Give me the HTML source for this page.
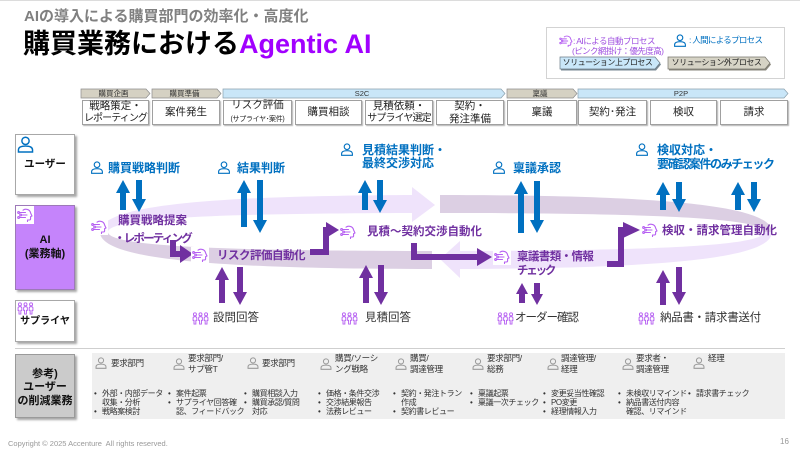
<!DOCTYPE html>
<html><head><meta charset="utf-8">
<style>
*{margin:0;padding:0;box-sizing:border-box}
body{width:800px;height:450px;position:relative;overflow:hidden;background:#fff;font-family:"Liberation Sans","Noto Sans CJK JP",sans-serif}
.t{position:absolute;white-space:nowrap;line-height:1}
.bx{position:absolute;top:100px;height:25px;border:1px solid #a0a0a0;background:#fff;box-shadow:1px 1px 1px rgba(0,0,0,.3);display:flex;align-items:center;justify-content:center;text-align:center;font-size:10.5px;line-height:12.5px;color:#222}
.ch{position:absolute;top:89px;height:9px;font-size:7.5px;line-height:9px;text-align:center;color:#333}
.u{color:#0070c0;font-weight:bold;font-size:12px}
.a{color:#7030a0;font-weight:bold;font-size:11.5px}
.s{color:#333;font-size:11.5px}
.lb{position:absolute;left:15px;width:60px;border:1px solid #a8a8a8;box-shadow:2px 2px 2px rgba(0,0,0,.35)}
.lt{position:absolute;left:15px;width:60px;text-align:center;font-weight:bold;color:#111;line-height:1;white-space:nowrap}
.role{position:absolute;font-size:8.5px;line-height:11px;color:#333;white-space:nowrap;letter-spacing:-0.3px}
.col{position:absolute;top:388.5px;font-size:8px;line-height:9.2px;color:#333;white-space:nowrap;letter-spacing:-0.4px}
.col i{display:inline-block;width:8px;font-style:normal;letter-spacing:0}
.col b{display:inline-block;width:8px}
</style></head><body>
<svg width="800" height="450" style="position:absolute;left:0;top:0" xmlns="http://www.w3.org/2000/svg">
<defs>
<symbol id="ai" viewBox="0 0 16 14">
<g fill="none" stroke="#b660f2" stroke-width="1.1" stroke-linecap="round" stroke-linejoin="round">
<path d="M6,2.2 C8,0.6 12.8,0.8 13.6,5 L15,8 L13.6,8.6 L13.6,10.8 Q13.6,12 12.3,12 L10.5,12 L10.5,13.5"/>
<path d="M2.8,4.5 H8.5 M4.8,7 H10 M2.8,9.5 H8.5"/>
<circle cx="1.6" cy="4.5" r="0.9"/><circle cx="3.6" cy="7" r="0.9"/><circle cx="1.6" cy="9.5" r="0.9"/>
</g>
</symbol>
<symbol id="person" viewBox="0 0 14 14">
<circle cx="7" cy="4" r="3" fill="none" stroke="currentColor" stroke-width="1.2"/>
<path d="M1.2,13.2 V11.5 Q1.2,8.3 7,8.3 Q12.8,8.3 12.8,11.5 V13.2 Z" fill="none" stroke="currentColor" stroke-width="1.2"/>
</symbol>
<symbol id="sup" viewBox="0 0 18 14">
<g fill="none" stroke="#b660f2" stroke-width="1">
<circle cx="3" cy="2.5" r="1.6"/><circle cx="9" cy="2.5" r="1.6"/><circle cx="15" cy="2.5" r="1.6"/>
<path d="M1,9 V6.5 Q1,5 3,5 Q5,5 5,6.5 V9 H4 V13 H2 V9 Z"/>
<path d="M7,9 V6.5 Q7,5 9,5 Q11,5 11,6.5 V9 H10 V13 H8 V9 Z"/>
<path d="M13,9 V6.5 Q13,5 15,5 Q17,5 17,6.5 V9 H16 V13 H14 V9 Z"/>
</g>
</symbol>
<clipPath id="cTL"><rect x="0" y="0" width="412" height="450"/></clipPath>
<clipPath id="cBL"><rect x="0" y="0" width="432" height="450"/></clipPath>
<clipPath id="cTR"><rect x="440" y="0" width="360" height="450"/></clipPath>
<clipPath id="cBR"><rect x="460" y="0" width="340" height="450"/></clipPath>
</defs>

<line x1="0" y1="0.5" x2="800" y2="0.5" stroke="#dcdcdc" stroke-width="1"/>

<!-- phase chevrons -->
<polygon points="81,89 146,89 150,93.5 146,98 81,98" fill="#d5d1c3" stroke="#8c8c8c" stroke-width="0.7"/>
<polygon points="152,89 217,89 221,93.5 217,98 152,98" fill="#d5d1c3" stroke="#8c8c8c" stroke-width="0.7"/>
<polygon points="223,89 501,89 505,93.5 501,98 223,98" fill="#c9e6f8" stroke="#8aa0ad" stroke-width="0.7"/>
<polygon points="507,89 573,89 577,93.5 573,98 507,98" fill="#d5d1c3" stroke="#8c8c8c" stroke-width="0.7"/>
<polygon points="578,89 784,89 788,93.5 784,98 578,98" fill="#c9e6f8" stroke="#8aa0ad" stroke-width="0.7"/>

<!-- ring -->
<path clip-path="url(#cBL)" d="M100,232 C100,257.9 200.8,269 436,269 L436,251 C206.4,251 108,245.3 108,232 Z" fill="#dccfe3"/>
<path clip-path="url(#cTR)" d="M436,195 C671.2,195 772,206.1 772,232 L764,232 C764,218.7 665.6,213 436,213 Z" fill="#dccfe3"/>
<path clip-path="url(#cTL)" d="M100,232 C100,206.1 200.8,195 436,195 L436,213 C206.4,213 108,218.7 108,232 Z" fill="#efe3fb"/>
<polygon points="412,187 435,205 412,222" fill="#efe3fb"/>
<path clip-path="url(#cBR)" d="M772,232 C772,257.9 671.2,269 436,269 L436,251 C665.6,251 764,245.3 764,232 Z" fill="#efe3fb"/>
<polygon points="460,241 440,259 460,278" fill="#efe3fb"/>

<!-- blue arrows -->
<g fill="#0070c0">
<polygon points="123,180 130,193 126,193 126,210 120,210 120,193 116,193"/>
<polygon points="139,212 146,199 142,199 142,180 136,180 136,199 132,199"/>
<polygon points="244,180 251,193 247,193 247,227 241,227 241,193 237,193"/>
<polygon points="260,233 267,220 263,220 263,180 257,180 257,220 253,220"/>
<polygon points="365,180 372,193 368,193 368,210 362,210 362,193 358,193"/>
<polygon points="380,213 387,200 383,200 383,180 377,180 377,200 373,200"/>
<polygon points="521,181 528,194 524,194 524,233 518,233 518,194 514,194"/>
<polygon points="537,233 544,220 540,220 540,181 534,181 534,220 530,220"/>
<polygon points="663,182 670,195 666,195 666,210 660,210 660,195 656,195"/>
<polygon points="679,212 686,199 682,199 682,182 676,182 676,199 672,199"/>
<polygon points="738,182 745,195 741,195 741,210 735,210 735,195 731,195"/>
<polygon points="754,212 761,199 757,199 757,182 751,182 751,199 747,199"/>
</g>
<!-- purple arrows -->
<g fill="#7030a0">
<polygon points="222,267 229,280 225,280 225,303 219,303 219,280 215,280"/>
<polygon points="240,305 247,292 243,292 243,267 237,267 237,292 233,292"/>
<polygon points="366,265 373,278 369,278 369,303 363,303 363,278 359,278"/>
<polygon points="381,305 388,292 384,292 384,265 378,265 378,292 374,292"/>
<polygon points="522,283 528,294 525,294 525,303 519,303 519,294 516,294"/>
<polygon points="537,305 543,294 540,294 540,283 534,283 534,294 531,294"/>
<polygon points="663,270 670,283 666,283 666,305 660,305 660,283 656,283"/>
<polygon points="679,305 686,292 682,292 682,267 676,267 676,292 672,292"/>
<polygon points="180,245 193,254 180,263"/>
<polygon points="326,222 339,230 326,238"/>
<polygon points="477,248 492,257 477,266"/>
<polygon points="623,222 640,230 623,238"/>
</g>
<g fill="none" stroke="#7030a0" stroke-width="6" stroke-linejoin="miter">
<path d="M173,240 V254 H181"/>
<path d="M310,252 H326 V230 H327"/>
<path d="M414,243 V257 H478"/>
<path d="M607,264 H621 V230 H624"/>
</g>

<!-- AI icons with white bg -->
<rect x="90" y="219" width="18" height="16" fill="#fff"/>
<use href="#ai" x="91" y="220" width="16" height="14"/>
<rect x="191" y="247" width="18" height="16" fill="#fff"/>
<use href="#ai" x="192" y="248" width="16" height="14"/>
<rect x="339" y="224" width="18" height="16" fill="#fff"/>
<use href="#ai" x="340" y="225" width="16" height="14"/>
<rect x="493" y="249" width="18" height="16" fill="#fff"/>
<use href="#ai" x="494" y="250" width="16" height="14"/>
<rect x="641" y="222" width="18" height="16" fill="#fff"/>
<use href="#ai" x="642" y="223" width="16" height="14"/>

<!-- user icons -->
<g style="color:#0070c0">
<use href="#person" x="90" y="161" width="14" height="13"/>
<use href="#person" x="217" y="161" width="14" height="13"/>
<use href="#person" x="340" y="143" width="14" height="13"/>
<use href="#person" x="492" y="161" width="14" height="13"/>
<use href="#person" x="635" y="143" width="14" height="13"/>
<use href="#person" x="673" y="34" width="14" height="13"/>
</g>
<use href="#ai" x="559" y="35" width="14" height="12"/>

<!-- supplier icons -->
<use href="#sup" x="192" y="312" width="17" height="13"/>
<use href="#sup" x="341" y="312" width="17" height="13"/>
<use href="#sup" x="497" y="312" width="17" height="13"/>
<use href="#sup" x="638" y="312" width="17" height="13"/>

<!-- separator -->
<line x1="15" y1="348.5" x2="785" y2="348.5" stroke="#cfcfcf" stroke-width="1"/>
<!-- bottom panel -->
<rect x="92" y="353" width="693" height="66" fill="#efefef"/>
<g style="color:#9a9a9a">
<use href="#person" x="95" y="357" width="12" height="12"/>
<use href="#person" x="173" y="358" width="12" height="12"/>
<use href="#person" x="247" y="357" width="12" height="12"/>
<use href="#person" x="320" y="358" width="12" height="12"/>
<use href="#person" x="395" y="358" width="12" height="12"/>
<use href="#person" x="472" y="358" width="12" height="12"/>
<use href="#person" x="547" y="358" width="12" height="12"/>
<use href="#person" x="622" y="358" width="12" height="12"/>
<use href="#person" x="693" y="357" width="12" height="12"/>
</g>
</svg>

<!-- header -->
<div class="t" style="left:24px;top:9px;font-size:15px;font-weight:bold;color:#808080">AIの導入による購買部門の効率化・高度化</div>
<div class="t" style="left:23px;top:31px;font-size:27px;font-weight:bold;color:#000">購買業務における<span style="color:#a100ff">Agentic AI</span></div>

<!-- legend -->
<div style="position:absolute;left:546px;top:27px;width:239px;height:52px;border:1px solid #d3d3d3"></div>
<svg width="800" height="90" style="position:absolute;left:0;top:0">
<polygon points="561,58.5 656,58.5 661,64.5 656,70.5 561,70.5" fill="#7a8a94"/>
<polygon points="560,57 655,57 660,63 655,69 560,69" fill="#c9e7f9" stroke="#6b7b85" stroke-width="0.7"/>
<polygon points="669,58.5 766,58.5 771,64.5 766,70.5 669,70.5" fill="#8a877c"/>
<polygon points="668,57 765,57 770,63 765,69 668,69" fill="#d6d3c5" stroke="#77756c" stroke-width="0.7"/>
</svg>
<div class="t" style="left:573px;top:37px;font-size:8.5px;color:#9f4fe0;letter-spacing:-0.5px">: AIによる自動プロセス</div>
<div class="t" style="left:572px;top:47px;font-size:8.5px;color:#9f4fe0;letter-spacing:-0.6px">(ピンク網掛け：優先度高)</div>
<div class="t" style="left:689px;top:36px;font-size:8.5px;color:#0070c0;letter-spacing:-0.7px">: 人間によるプロセス</div>
<div class="t" style="left:560px;top:59px;width:95px;text-align:center;font-size:8px;color:#222;letter-spacing:-0.5px">ソリューション上プロセス</div>
<div class="t" style="left:668px;top:59px;width:97px;text-align:center;font-size:8px;color:#222;letter-spacing:-0.5px">ソリューション外プロセス</div>

<!-- phase chevron labels -->
<div class="ch" style="left:81px;width:65px">購買企画</div>
<div class="ch" style="left:152px;width:65px">購買準備</div>
<div class="ch" style="left:223px;width:278px">S2C</div>
<div class="ch" style="left:507px;width:66px">稟議</div>
<div class="ch" style="left:578px;width:206px">P2P</div>

<!-- phase boxes -->
<div class="bx" style="left:82px;width:67px"><div>戦略策定・<br><span style="font-size:10px;letter-spacing:-0.9px">レポーティング</span></div></div>
<div class="bx" style="left:152px;width:68px"><div>案件発生</div></div>
<div class="bx" style="left:223px;width:69px"><div>リスク評価<br><span style="font-size:7px;letter-spacing:-0.3px">(サプライヤ･案件)</span></div></div>
<div class="bx" style="left:295px;width:67px"><div>購買相談</div></div>
<div class="bx" style="left:365px;width:68px"><div>見積依頼・<br><span style="font-size:10px;letter-spacing:-0.9px">サプライヤ選定</span></div></div>
<div class="bx" style="left:436px;width:68px"><div>契約・<br>発注準備</div></div>
<div class="bx" style="left:507px;width:70px"><div>稟議</div></div>
<div class="bx" style="left:578px;width:69px"><div>契約･発注</div></div>
<div class="bx" style="left:650px;width:67px"><div>検収</div></div>
<div class="bx" style="left:720px;width:68px"><div>請求</div></div>

<!-- left column -->
<div class="lb" style="top:134px;height:61px;background:#fff"></div>
<svg width="20" height="20" style="position:absolute;left:16px;top:135px"><use href="#person" x="1" y="1" width="17" height="17" style="color:#0070c0"/></svg>
<div class="lt" style="top:159px;font-size:10.5px">ユーザー</div>

<div class="lb" style="top:205px;height:85px;background:#c584fb;border-color:#9d79b8"></div>
<div style="position:absolute;left:16px;top:206px;width:18px;height:18px;background:#fff"></div>
<svg width="18" height="18" style="position:absolute;left:16px;top:206px"><use href="#ai" x="1" y="2" width="16" height="14"/></svg>
<div class="lt" style="top:235px;font-size:11px">AI</div>
<div class="lt" style="top:249px;font-size:11px">(業務軸)</div>

<div class="lb" style="top:300px;height:42px;background:#fff"></div>
<svg width="20" height="16" style="position:absolute;left:17px;top:302px"><use href="#sup" x="0" y="0" width="17" height="13"/></svg>
<div class="lt" style="top:317px;font-size:10px">サプライヤ</div>

<div class="lb" style="top:354px;height:64px;background:#cbcbcb;border-color:#9a9a9a"></div>
<div class="lt" style="top:369px;font-size:11px">参考)</div>
<div class="lt" style="top:382px;font-size:11px">ユーザー</div>
<div class="lt" style="top:395.5px;font-size:11px">の削減業務</div>

<!-- user row labels -->
<div class="t u" style="left:108px;top:162.4px">購買戦略判断</div>
<div class="t u" style="left:237px;top:162.4px">結果判断</div>
<div class="t u" style="left:362px;top:144.4px">見積結果判断・</div>
<div class="t u" style="left:362px;top:157.4px">最終交渉対応</div>
<div class="t u" style="left:513px;top:162.4px">稟議承認</div>
<div class="t u" style="left:657px;top:144.4px">検収対応・</div>
<div class="t u" style="left:657px;top:158.4px;letter-spacing:-1.4px">要確認案件のみチェック</div>

<!-- AI row labels -->
<div class="t a" style="left:118px;top:215.6px">購買戦略提案</div>
<div class="t a" style="left:114px;top:233.6px;letter-spacing:-1.8px">・レポーティング</div>
<div class="t a" style="left:217px;top:250.6px;letter-spacing:-0.5px">リスク評価自動化</div>
<div class="t a" style="left:367px;top:226.6px">見積～契約交渉自動化</div>
<div class="t a" style="left:517px;top:251.6px;letter-spacing:-0.6px">稟議書類・情報</div>
<div class="t a" style="left:517px;top:265.6px;letter-spacing:-2.2px">チェック</div>
<div class="t a" style="left:662px;top:225.6px">検収・請求管理自動化</div>

<!-- supplier row labels -->
<div class="t s" style="left:213px;top:312.6px">設問回答</div>
<div class="t s" style="left:365px;top:312.6px">見積回答</div>
<div class="t s" style="left:515px;top:312.6px;letter-spacing:-1px">オーダー確認</div>
<div class="t s" style="left:660px;top:312.6px;letter-spacing:-0.3px">納品書・請求書送付</div>

<!-- bottom roles -->
<div class="role" style="left:111px;top:357.5px">要求部門</div>
<div class="role" style="left:188px;top:352.5px">要求部門/<br>サプ管T</div>
<div class="role" style="left:262px;top:357.5px">要求部門</div>
<div class="role" style="left:335px;top:352.5px">購買/ソーシ<br>ング戦略</div>
<div class="role" style="left:410px;top:352.5px">購買/<br>調達管理</div>
<div class="role" style="left:487px;top:352.5px">要求部門/<br>総務</div>
<div class="role" style="left:561px;top:352.5px">調達管理/<br>経理</div>
<div class="role" style="left:636px;top:352.5px">要求者・<br>調達管理</div>
<div class="role" style="left:708px;top:352.5px">経理</div>

<!-- bottom bullets -->
<div class="col" style="left:94px"><i>•</i>外部・内部データ<br><b></b>収集・分析<br><i>•</i>戦略案検討</div>
<div class="col" style="left:168px"><i>•</i>案件起票<br><i>•</i>サプライヤ回答確<br><b></b>認、フィードバック</div>
<div class="col" style="left:244px"><i>•</i>購買相談入力<br><i>•</i>購買承認/質問<br><b></b>対応</div>
<div class="col" style="left:318px"><i>•</i>価格・条件交渉<br><i>•</i>交渉結果報告<br><i>•</i>法務レビュー</div>
<div class="col" style="left:393px"><i>•</i>契約・発注トラン<br><b></b>作成<br><i>•</i>契約書レビュー</div>
<div class="col" style="left:470px"><i>•</i>稟議起票<br><i>•</i>稟議一次チェック</div>
<div class="col" style="left:543px"><i>•</i>変更妥当性確認<br><i>•</i>PO変更<br><i>•</i>経理情報入力</div>
<div class="col" style="left:618px"><i>•</i>未検収リマインド<br><i>•</i>納品書送付内容<br><b></b>確認、リマインド</div>
<div class="col" style="left:688px"><i>•</i>請求書チェック</div>

<!-- footer -->
<div class="t" style="left:8px;top:439.5px;font-size:7.5px;color:#999">Copyright © 2025 Accenture&nbsp; All rights reserved.</div>
<div class="t" style="left:780px;top:437.5px;font-size:8px;color:#999">16</div>
</body></html>
